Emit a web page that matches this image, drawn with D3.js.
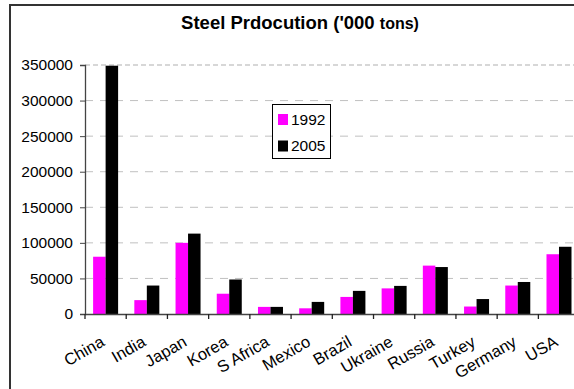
<!DOCTYPE html>
<html>
<head>
<meta charset="utf-8">
<script src="https://cdn.jsdelivr.net/npm/d3@7"></script>
<style>
  html, body { margin: 0; padding: 0; background: #fff; overflow: hidden; }
  svg { display: block; font-family: "Liberation Sans", Arial, sans-serif; }
</style>
</head>
<body>
<svg id="chart" width="574" height="389"></svg>
<script>
// Steel production by country, thousand tons
const countries = ["China", "India", "Japan", "Korea", "S Africa", "Mexico",
                   "Brazil", "Ukraine", "Russia", "Turkey", "Germany", "USA"];
const years = ["1992", "2005"];
const prod1992 = [80500, 19500, 100000, 28500, 10000, 8000, 24000, 36000, 68000, 10500, 40000, 84000];
const prod2005 = [349000, 40000, 113000, 48500, 10000, 17000, 32500, 39500, 66000, 21000, 45000, 94500];
const yTicks = [0, 50000, 100000, 150000, 200000, 250000, 300000, 350000];
const colors = ["#ff00ff", "#000000"];

const series = [prod1992, prod2005];
const svg = d3.select("#chart");

// frame around the whole chart
svg.append("rect")
  .attr("x", 10).attr("y", 5).attr("width", 620).attr("height", 430)
  .attr("fill", "none").attr("stroke", "#333").attr("stroke-width", 2);

// title
const title = svg.append("text")
  .attr("x", 300).attr("y", 29)
  .attr("text-anchor", "middle")
  .attr("font-weight", "bold")
  .attr("fill", "#000");
title.append("tspan").attr("font-size", 18.5).text("Steel Prdocution ('000 ");
title.append("tspan").attr("font-size", 16).text("tons)");

const plotLeft = 85, plotTop = 65, plotBottom = 314, plotRight = 579.6;

const y = d3.scaleLinear().domain([0, 350000]).range([plotBottom, plotTop]);
const x = d3.scaleBand().domain(countries).range([plotLeft, plotRight]).padding(0);
const groupW = 25;
const x1 = d3.scaleBand().domain(years)
  .range([(x.bandwidth() - groupW) / 2, (x.bandwidth() + groupW) / 2]).padding(0);

// gridlines
svg.append("g").selectAll("line")
  .data(yTicks.filter(t => t > 0 && t < 350000))
  .join("line")
  .attr("x1", plotLeft).attr("x2", plotRight)
  .attr("y1", d => y(d)).attr("y2", d => y(d))
  .attr("stroke", "#c0c0c0").attr("stroke-width", 1)
  .attr("stroke-dasharray", "8,7");

// top edge of plot area
svg.append("line")
  .attr("x1", plotLeft).attr("x2", plotRight)
  .attr("y1", y(350000)).attr("y2", y(350000))
  .attr("stroke", "#b0b0b0").attr("stroke-width", 1.2)
  .attr("stroke-dasharray", "5,3");

// bars
const groups = svg.append("g").selectAll("g")
  .data(countries)
  .join("g")
  .attr("transform", d => `translate(${x(d)},0)`);

groups.selectAll("rect")
  .data((c, i) => years.map((yr, s) => ({ yr, s, v: series[s][i] })))
  .join("rect")
  .attr("x", d => x1(d.yr))
  .attr("y", d => y(d.v))
  .attr("width", x1.bandwidth())
  .attr("height", d => y(0) - y(d.v))
  .attr("fill", d => colors[d.s]);

// y axis
const yAxis = svg.append("g")
  .attr("transform", `translate(${plotLeft},0)`)
  .call(d3.axisLeft(y).tickValues(yTicks).tickFormat(d3.format("d")).tickSize(5).tickPadding(7));
yAxis.select(".domain").attr("stroke", "#444").attr("stroke-width", 1.3);
yAxis.selectAll(".tick line").attr("stroke", "#444");
yAxis.selectAll(".tick text")
  .attr("font-size", 15.5).attr("fill", "#000")
  .attr("font-family", "Liberation Sans, Arial, sans-serif");

// x axis
const xAxis = svg.append("g")
  .attr("transform", `translate(0,${plotBottom})`)
  .call(d3.axisBottom(x).tickSize(0).tickFormat(""));
xAxis.select(".domain").attr("stroke", "#444").attr("stroke-width", 1.3);

// category boundary ticks
svg.append("g").selectAll("line")
  .data(countries)
  .join("line")
  .attr("x1", d => x(d)).attr("x2", d => x(d))
  .attr("y1", plotBottom).attr("y2", plotBottom + 5)
  .attr("stroke", "#222").attr("stroke-width", 1.3);

// rotated category labels
svg.append("g").selectAll("text")
  .data(countries)
  .join("text")
  .attr("transform", d => `translate(${x(d) + x.bandwidth() / 2},${plotBottom + 31}) rotate(-30)`)
  .attr("text-anchor", "end")
  .attr("font-size", 16.5)
  .attr("fill", "#000")
  .text(d => d);

// legend
const legend = svg.append("g");
legend.append("rect")
  .attr("x", 272.5).attr("y", 104.5).attr("width", 58).attr("height", 54)
  .attr("fill", "#fff").attr("stroke", "#000").attr("stroke-width", 1);
years.forEach((yr, i) => {
  legend.append("rect")
    .attr("x", 278).attr("y", 114 + i * 26.5)
    .attr("width", 10).attr("height", 11)
    .attr("fill", colors[i]);
  legend.append("text")
    .attr("x", 291).attr("y", 124.5 + i * 26.5)
    .attr("font-size", 15.5).attr("fill", "#000")
    .text(yr);
});
</script>
</body>
</html>
